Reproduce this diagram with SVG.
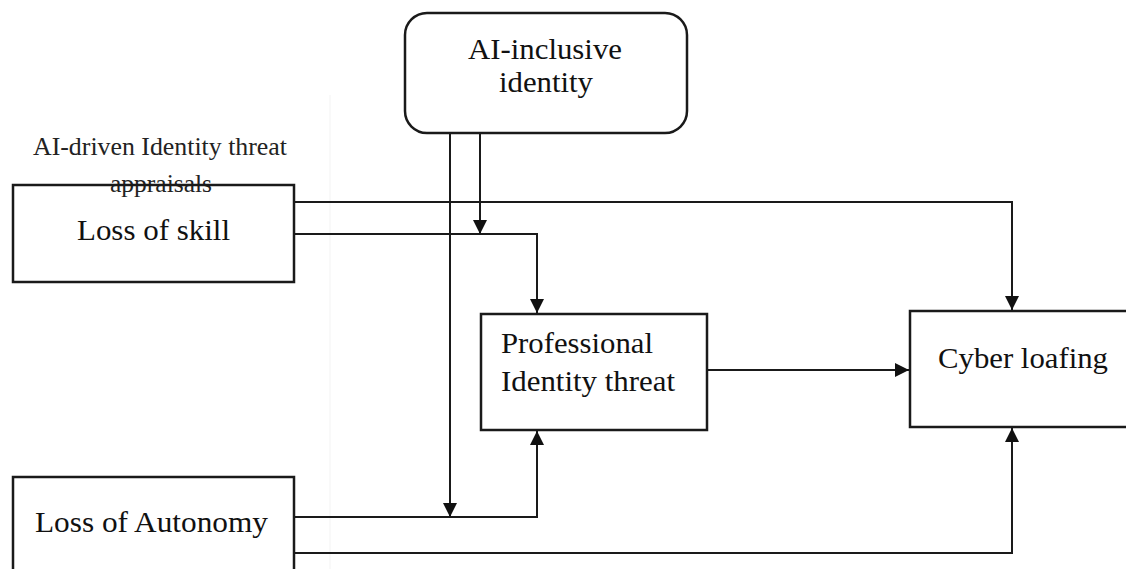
<svg xmlns="http://www.w3.org/2000/svg" width="1126" height="569" viewBox="0 0 1126 569">
  <style>
    .box { fill: #ffffff; stroke: #1a1a1a; stroke-width: 2.5; }
    .conn { fill: none; stroke: #1a1a1a; stroke-width: 2; }
    .lbl { font-family: "Liberation Serif", "Times New Roman", serif; font-size: 30px; fill: #111111; }
    .hdr { font-family: "Liberation Serif", "Times New Roman", serif; font-size: 26px; fill: #222222; }
  </style>
  <defs>
    <marker id="arrow" markerUnits="userSpaceOnUse" markerWidth="16" markerHeight="16" viewBox="0 0 16 16" refX="15" refY="8" orient="auto">
      <path d="M1,1 L15,8 L1,15 Z" fill="#111111"/>
    </marker>
  </defs>
  <rect width="1126" height="569" fill="#ffffff"/>
  <line x1="330" y1="95" x2="330" y2="569" stroke="#f3f3f3" stroke-width="1"/>

  <g id="connectors">
    <path class="conn" d="M295 202 H1012 V310" marker-end="url(#arrow)"/>
    <path class="conn" d="M295 234 H537 V313" marker-end="url(#arrow)"/>
    <path class="conn" d="M480 133 V234" marker-end="url(#arrow)"/>
    <path class="conn" d="M450 133 V517" marker-end="url(#arrow)"/>
    <path class="conn" d="M295 517 H537 V431" marker-end="url(#arrow)"/>
    <path class="conn" d="M295 553 H1012 V428" marker-end="url(#arrow)"/>
    <path class="conn" d="M707 370 H909" marker-end="url(#arrow)"/>
  </g>

  <g id="header">
    <text class="hdr" x="33" y="155" textLength="254" lengthAdjust="spacingAndGlyphs">AI-driven Identity threat</text>
    <text class="hdr" x="110" y="192" textLength="102" lengthAdjust="spacingAndGlyphs">appraisals</text>
  </g>

  <g id="loss-of-skill">
    <rect class="box" x="13" y="185" width="281" height="97" fill-opacity="0"/>
    <text class="lbl" x="77" y="240" textLength="153" lengthAdjust="spacingAndGlyphs">Loss of skill</text>
  </g>

  <g id="ai-inclusive-identity">
    <rect class="box" x="405" y="13" width="282" height="120" rx="22" ry="22"/>
    <text class="lbl" x="468" y="59" textLength="154" lengthAdjust="spacingAndGlyphs">AI-inclusive</text>
    <text class="lbl" x="499" y="92" textLength="94" lengthAdjust="spacingAndGlyphs">identity</text>
  </g>

  <g id="professional-identity-threat">
    <rect class="box" x="481" y="314" width="226" height="116"/>
    <text class="lbl" x="501" y="353" textLength="152" lengthAdjust="spacingAndGlyphs">Professional</text>
    <text class="lbl" x="501" y="391" textLength="174" lengthAdjust="spacingAndGlyphs">Identity threat</text>
  </g>

  <g id="cyber-loafing">
    <rect class="box" x="910" y="311" width="230" height="116"/>
    <text class="lbl" x="938" y="368" textLength="170" lengthAdjust="spacingAndGlyphs">Cyber loafing</text>
  </g>

  <g id="loss-of-autonomy">
    <rect class="box" x="13" y="477" width="281" height="110"/>
    <text class="lbl" x="35" y="532" textLength="233" lengthAdjust="spacingAndGlyphs">Loss of Autonomy</text>
  </g>
</svg>
